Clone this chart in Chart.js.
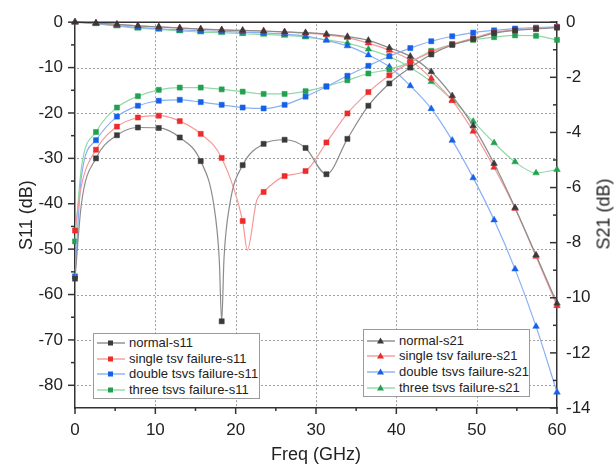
<!DOCTYPE html>
<html><head><meta charset="utf-8">
<script src="https://cdn.jsdelivr.net/npm/chart.js@4.4.1/dist/chart.umd.min.js"></script>
<style>
html,body{margin:0;padding:0;background:#fff;}
#wrap{position:relative;width:616px;height:470px;font-family:'Liberation Sans',Arial,sans-serif;color:#222;}
canvas{position:absolute;left:0;top:0;}
.legend{position:absolute;background:#fff;border:1px solid #9a9a9a;box-sizing:border-box;}
.row{position:absolute;left:0;width:100%;height:14px;}
.row svg{position:absolute;left:3px;top:2px;}
.row span{position:absolute;left:35px;top:0;font-size:13px;line-height:14px;white-space:nowrap;}
#y2title{position:absolute;left:604px;top:214px;transform:translate(-50%,-50%) rotate(-90deg);font-size:18px;white-space:nowrap;}
</style>
</head><body>
<div id="wrap">
<canvas id="c" width="616" height="470"></canvas>
<div class="legend" id="leg1" style="left:93px;top:333px;width:167px;height:66px;"></div>
<div class="legend" id="leg2" style="left:363px;top:329px;width:167px;height:68px;"></div>
<div id="y2title">S21 (dB)</div>
</div>
<script>
// Frequencies of the marked samples (GHz)
const freqGHz = [0, 2.61, 5.22, 7.83, 10.43, 13.04, 15.65, 18.26, 20.87, 23.48, 26.09, 28.7, 31.3, 33.91, 36.52, 39.13, 41.74, 44.35, 46.96, 49.57, 52.17, 54.78, 57.39, 60];

// S11 (dB, left axis)
const normalS11 = [-56.5, -30.0, -24.9, -23.2, -23.3, -25.4, -30.6, -65.9, -31.5, -26.8, -25.9, -27.7, -33.5, -25.7, -18.4, -13.5, -10.0, -7.1, -5.0, -3.7, -2.4, -1.8, -1.5, -1.2];
const singleS11 = [-45.9, -28.1, -23.0, -21.0, -20.6, -21.8, -24.6, -29.9, -43.8, -37.4, -33.9, -32.8, -26.5, -20.1, -15.4, -11.7, -8.8, -6.6, -4.8, -3.5, -2.2, -1.7, -1.4, -1.1];
const doubleS11 = [-56.0, -26.0, -20.8, -18.4, -17.3, -17.1, -17.6, -18.2, -18.8, -19.0, -18.2, -16.4, -14.2, -11.8, -9.6, -7.5, -5.7, -4.2, -3.1, -2.3, -1.8, -1.4, -1.2, -1.0];
const threeS11 = [-48.3, -24.2, -18.8, -16.3, -14.9, -14.4, -14.4, -14.8, -15.3, -15.8, -15.8, -15.2, -14.1, -12.8, -11.3, -10.4, -8.8, -6.3, -4.9, -3.9, -3.3, -2.9, -3.0, -3.9];

// Unmarked curve points: [GHz, dB]
const normalS11Extra = [[0.8, -40], [17.3, -40.5], [17.95, -52], [18.55, -52], [19.3, -39.8]];
const singleS11Extra = [[0.8, -36], [21.45, -50.2], [22.6, -39.4]];
const doubleS11Extra = [[0.8, -34]];
const threeS11Extra = [[0.8, -32]];

// S21 (dB, right axis)
const normalS21 = [0, -0.03, -0.08, -0.13, -0.17, -0.21, -0.25, -0.28, -0.30, -0.32, -0.35, -0.38, -0.43, -0.52, -0.66, -0.93, -1.24, -1.80, -2.67, -3.76, -5.13, -6.73, -8.45, -10.2];
const singleS21 = [0, -0.03, -0.08, -0.13, -0.17, -0.21, -0.25, -0.28, -0.30, -0.32, -0.36, -0.40, -0.46, -0.56, -0.76, -1.02, -1.38, -2.04, -2.85, -3.96, -5.27, -6.76, -8.5, -10.29];
const doubleS21 = [0, -0.05, -0.12, -0.19, -0.24, -0.28, -0.31, -0.33, -0.36, -0.39, -0.43, -0.50, -0.66, -0.86, -1.19, -1.62, -2.31, -3.14, -4.29, -5.65, -7.18, -8.96, -11.04, -13.43];
const threeS21 = [0, -0.06, -0.14, -0.22, -0.26, -0.32, -0.36, -0.38, -0.42, -0.44, -0.48, -0.54, -0.64, -0.76, -0.98, -1.25, -1.64, -2.16, -2.82, -3.6, -4.38, -5.07, -5.47, -5.35];

const s11Labels = ['normal-s11', 'single tsv failure-s11', 'double tsvs failure-s11', 'three tsvs failure-s11'];
const s21Labels = ['normal-s21', 'single tsv failure-s21', 'double tsvs failure-s21', 'three tsvs failure-s21'];

const markerColors = ['#3a3a3a', '#ee2a2a', '#1660e8', '#22a050'];
const lineColors = ['#8c8c8c', '#f49a9a', '#8ab0f2', '#92d8a8'];

function build(vals, extra) {
  const pts = freqGHz.map((f, i) => ({x: f, y: vals[i], m: true}));
  (extra || []).forEach(([f, v]) => pts.push({x: f, y: v, m: false}));
  pts.sort((a, b) => a.x - b.x);
  return pts;
}

const s11Sets = [[normalS11, normalS11Extra], [singleS11, singleS11Extra], [doubleS11, doubleS11Extra], [threeS11, threeS11Extra]];
const s21Sets = [normalS21, singleS21, doubleS21, threeS21];

const datasets = [];
s11Sets.forEach(([v, e], i) => datasets.push({
  label: s11Labels[i], data: build(v, e), yAxisID: 'y',
  borderColor: lineColors[i], borderWidth: 1.2,
  pointStyle: 'rect', pointRadius: c => (c.raw && c.raw.m) ? 3.6 : 0,
  pointBackgroundColor: markerColors[i], pointBorderColor: markerColors[i], pointBorderWidth: 0.5,
  cubicInterpolationMode: 'monotone', clip: false
}));
s21Sets.forEach((v, i) => datasets.push({
  label: s21Labels[i], data: build(v), yAxisID: 'y2',
  borderColor: lineColors[i], borderWidth: 1.2,
  pointStyle: 'triangle', pointRadius: c => (c.raw && c.raw.m) ? 3.8 : 0,
  pointBackgroundColor: markerColors[i], pointBorderColor: markerColors[i], pointBorderWidth: 0.5,
  cubicInterpolationMode: 'monotone', clip: false
}));

Chart.defaults.font.family = "'Liberation Sans', Arial, sans-serif";
Chart.defaults.color = '#222';

// dotted grid at the major ticks of the x and left y scales
const dottedGrid = {
  id: 'dottedGrid',
  beforeDatasetsDraw(chart) {
    const {ctx, chartArea: a, scales} = chart;
    ctx.save();
    ctx.fillStyle = '#a0a0a0';
    scales.x.ticks.forEach(t => {
      const p = Math.round(scales.x.getPixelForValue(t.value));
      if (p <= a.left + 2 || p >= a.right - 2) return;
      for (let yy = a.top + 2; yy < a.bottom - 1; yy += 4) ctx.fillRect(p, yy, 1, 2);
    });
    scales.y.ticks.forEach(t => {
      const p = Math.round(scales.y.getPixelForValue(t.value));
      if (p <= a.top + 2 || p >= a.bottom - 2) return;
      for (let xx = a.left + 2; xx < a.right - 1; xx += 4) ctx.fillRect(xx, p, 2, 1);
    });
    ctx.restore();
  }
};

const axisDecor = {
  id: 'axisDecor',
  afterDraw(chart) {
    const {ctx, chartArea: a, scales} = chart;
    ctx.save();
    ctx.strokeStyle = '#333';
    ctx.lineWidth = 1.5;
    const seg = (x1, y1, x2, y2) => { ctx.beginPath(); ctx.moveTo(x1, y1); ctx.lineTo(x2, y2); ctx.stroke(); };
    seg(a.left, a.top, a.right, a.top);
    const marks = (scale, fn) => {
      const t = scale.ticks.map(k => k.value);
      t.forEach(v => fn(scale.getPixelForValue(v), 7));
      for (let i = 0; i < t.length - 1; i++) fn(scale.getPixelForValue((t[i] + t[i + 1]) / 2), 4);
    };
    marks(scales.x, (p, l) => seg(p, a.bottom, p, a.bottom + l - 1));
    marks(scales.y, (p, l) => seg(a.left - l, p, a.left, p));
    marks(scales.y2, (p, l) => seg(a.right - l, p, a.right, p));
    ctx.restore();
  }
};

new Chart(document.getElementById('c'), {
  type: 'line',
  data: {datasets},
  options: {
    responsive: false, animation: false, devicePixelRatio: 1,
    layout: {padding: {top: 20, left: 0, right: 0, bottom: 0}},
    plugins: {legend: {display: false}, tooltip: {enabled: false}},
    scales: {
      x: {
        type: 'linear', position: 'bottom', min: 0, max: 60,
        ticks: {stepSize: 10, padding: 12, font: {size: 17}, color: '#222', maxRotation: 0},
        grid: {drawOnChartArea: false, drawTicks: false},
        border: {color: '#333', width: 1.5},
        title: {display: true, text: 'Freq (GHz)', font: {size: 18}, color: '#222', padding: {top: 0, bottom: 4}},
        afterFit(s) { s.height = 62; }
      },
      y: {
        type: 'linear', position: 'left', min: -85, max: 0,
        ticks: {stepSize: 10, includeBounds: false, padding: 12, font: {size: 17}, color: '#222'},
        grid: {drawOnChartArea: false, drawTicks: false},
        border: {color: '#333', width: 1.5},
        title: {display: true, text: 'S11 (dB)', font: {size: 18}, color: '#222', padding: {top: 16, bottom: 0}},
        afterFit(s) { s.width = 75; }
      },
      y2: {
        type: 'linear', position: 'right', min: -14, max: 0,
        ticks: {stepSize: 2, padding: 9, font: {size: 17}, color: '#222'},
        grid: {drawOnChartArea: false, drawTicks: false},
        border: {display: true, color: '#333', width: 1.5},
        afterFit(s) { s.width = 59; }
      }
    }
  },
  plugins: [dottedGrid, axisDecor]
});

function legend(id, labels, shape, rows) {
  const box = document.getElementById(id);
  labels.forEach((lab, i) => {
    const r = document.createElement('div');
    r.className = 'row';
    r.style.top = (rows[i] - 7) + 'px';
    const mk = shape === 'rect'
      ? `<rect x="11" y="2.5" width="5" height="5" fill="${markerColors[i]}"/>`
      : `<polygon points="13.5,1.5 17,7.5 10,7.5" fill="${markerColors[i]}"/>`;
    r.innerHTML = `<svg width="28" height="10"><line x1="0" y1="5" x2="28" y2="5" stroke="${lineColors[i]}" stroke-width="1.4"/>${mk}</svg><span>${lab}</span>`;
    box.appendChild(r);
  });
}
legend('leg1', s11Labels, 'rect', [9, 24.5, 40, 55.5]);
legend('leg2', s21Labels, 'tri', [11, 26, 42, 57.5]);
</script>
</body></html>
